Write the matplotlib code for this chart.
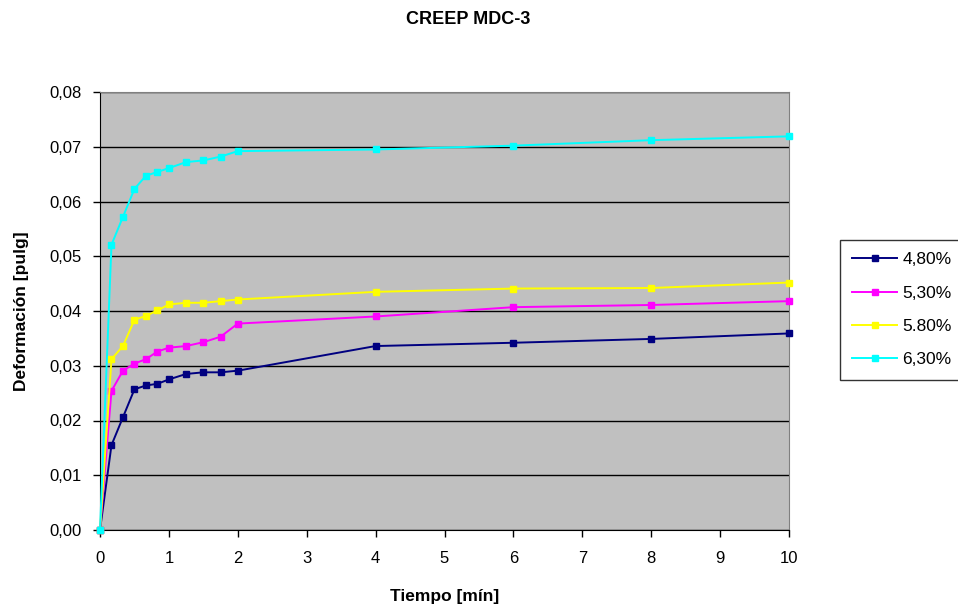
import matplotlib
matplotlib.use("Agg")
from matplotlib import pyplot as plt
from matplotlib.ticker import FuncFormatter

plt.rcParams['font.family'] = ['Liberation Sans', 'DejaVu Sans']

# tiempo en minutos (lecturas a 10 s, luego 15 s, luego cada 2 min)
tiempo = [0, 1/6, 1/3, 0.5, 2/3, 5/6, 1, 1.25, 1.5, 1.75, 2, 4, 6, 8, 10]

def_480 = [0.0, 0.0155, 0.0206, 0.0257, 0.0264, 0.0267, 0.0275, 0.0285, 0.0288, 0.0288, 0.0291,
           0.0336, 0.0342, 0.0349, 0.0359]
def_530 = [0.0, 0.0254, 0.0291, 0.0304, 0.0312, 0.0326, 0.0333, 0.0336, 0.0343, 0.0353, 0.0377,
           0.0390, 0.0407, 0.0411, 0.0418]
def_580 = [0.0, 0.0312, 0.0336, 0.0384, 0.0391, 0.0401, 0.0412, 0.0415, 0.0415, 0.0418, 0.0421,
           0.0435, 0.0441, 0.0442, 0.0452]
def_630 = [0.0, 0.0521, 0.0572, 0.0623, 0.0647, 0.0654, 0.0661, 0.0672, 0.0675, 0.0682, 0.0692,
           0.0695, 0.0702, 0.0712, 0.0719]

etiquetas = ['4,80%', '5,30%', '5.80%', '6,30%']
colores = ['#000080', '#FF00FF', '#FFFF00', '#00FFFF']
series = [def_480, def_530, def_580, def_630]

fig = plt.figure(figsize=(9.58, 6.14), dpi=100)
ax = fig.add_axes([100/958, 1 - 530/614, 689/958, 438/614])
ax.set_facecolor('#C0C0C0')

for y, c, lab in zip(series, colores, etiquetas):
    ax.plot(tiempo, y, color=c, lw=1.4, marker='s', ms=5, label=lab, clip_on=False, zorder=3)

ax.set_xlim(0, 10)
ax.set_ylim(0, 0.08)
ax.set_xticks(range(0, 11))
ax.set_yticks([i / 100 for i in range(0, 9)])
ax.yaxis.set_major_formatter(FuncFormatter(lambda v, p: f"{v:.2f}".replace('.', ',')))
ax.grid(axis='y', color='black', lw=1)
ax.set_axisbelow(True)
ax.tick_params(labelsize=12, direction='out', length=5, width=1, color='black')
ax.tick_params(axis='x', pad=10)
ax.tick_params(axis='y', pad=8)

for s in ['top', 'right']:
    ax.spines[s].set_color('#808080')
for s in ['left', 'bottom']:
    ax.spines[s].set_color('black')

ax.set_xlabel('Tiempo [mín]', fontsize=12.5, fontweight='bold', labelpad=17)
ax.set_ylabel('Deformación [pulg]', fontsize=12.5, fontweight='bold', labelpad=15)
fig.text(468/958, 1 - 20/614, 'CREEP MDC-3', ha='center', va='center', fontsize=13, fontweight='bold')

leg = ax.legend(loc='upper left', bbox_to_anchor=(840/958, 1 - 240/614), bbox_transform=fig.transFigure,
                frameon=True, fancybox=False, fontsize=12.5, handlelength=2.6, borderpad=0.7,
                labelspacing=1.05, handletextpad=0.3, borderaxespad=0)
leg.get_frame().set_edgecolor('black')
leg.get_frame().set_linewidth(1)

fig.savefig('out.png', dpi=100)
